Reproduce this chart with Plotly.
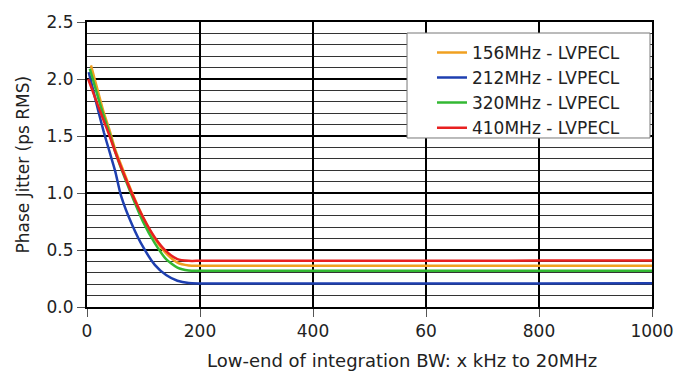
import plotly.graph_objects as go

# Data
x_156 = [7, 20, 30, 40, 50, 60, 80, 100, 120, 140, 160, 180, 200, 400, 600, 800, 1000]
y_156 = [2.12, 1.88, 1.70, 1.55, 1.38, 1.25, 1.00, 0.78, 0.60, 0.47, 0.39, 0.365, 0.362, 0.362, 0.362, 0.362, 0.362]

x_212 = [3, 20, 30, 40, 50, 60, 80, 100, 120, 140, 160, 180, 200, 400, 600, 800, 1000]
y_212 = [2.06, 1.72, 1.53, 1.36, 1.19, 0.98, 0.72, 0.52, 0.37, 0.28, 0.23, 0.21, 0.207, 0.207, 0.207, 0.207, 0.208]

x_320 = [5, 20, 30, 40, 50, 60, 80, 100, 120, 140, 160, 180, 200, 400, 600, 800, 1000]
y_320 = [2.09, 1.83, 1.67, 1.52, 1.36, 1.22, 0.97, 0.74, 0.56, 0.42, 0.345, 0.32, 0.318, 0.318, 0.318, 0.318, 0.318]

x_410 = [2, 20, 30, 40, 50, 60, 80, 100, 120, 140, 160, 180, 200, 400, 600, 800, 1000]
y_410 = [2.00, 1.76, 1.63, 1.50, 1.36, 1.23, 0.99, 0.78, 0.61, 0.49, 0.42, 0.405, 0.405, 0.405, 0.406, 0.407, 0.408]

series_names = ["156MHz - LVPECL", "212MHz - LVPECL", "320MHz - LVPECL", "410MHz - LVPECL"]
series_colors = ["#F0A020", "#1E3FB0", "#33B833", "#E82020"]

x_tickvals = [0, 200, 400, 600, 800, 1000]
x_ticktext = ["0", "200", "400", "60", "800", "1000"]
y_tickvals = [0.0, 0.5, 1.0, 1.5, 2.0, 2.5]
y_ticktext = ["0.0", "0.5", "1.0", "1.5", "2.0", "2.5"]

x_title = "Low-end of integration BW: x kHz to 20MHz"
y_title = "Phase Jitter (ps RMS)"

FONT = "DejaVu Sans"

fig = go.Figure()
for xs, ys, name, col in zip([x_156, x_212, x_320, x_410],
                             [y_156, y_212, y_320, y_410],
                             series_names, series_colors):
    fig.add_trace(go.Scatter(x=xs, y=ys, mode="lines", name=name,
                             line=dict(color=col, width=2.5, shape="spline", smoothing=0.6)))

# page body has an 8px margin, so the figure is offset inside the window
fig.update_layout(
    width=666, height=366,
    margin=dict(l=79, r=22, t=14, b=67),
    paper_bgcolor="white", plot_bgcolor="white",
    font=dict(family=FONT, color="#222", size=15),
    showlegend=True,
    legend=dict(x=0.6106, xanchor="left", y=0.955, yanchor="top",
                bgcolor="rgba(0,0,0,0)", borderwidth=0,
                font=dict(family=FONT, size=17, color="#222"),
                tracegroupgap=0, itemwidth=30),
    shapes=[dict(type="rect", xref="paper", yref="paper",
                 x0=0.5664, x1=0.9965, y0=0.593, y1=0.9614,
                 fillcolor="white", line=dict(color="#777", width=1), layer="above")],
    annotations=[
        dict(text=y_title, xref="paper", yref="paper",
             x=-0.115, y=0.5, textangle=-90, showarrow=False,
             xanchor="center", yanchor="middle",
             font=dict(family=FONT, size=17, color="#222")),
        dict(text=x_title, xref="paper", yref="paper",
             x=0.5575, y=-0.188, showarrow=False,
             xanchor="center", yanchor="middle",
             font=dict(family=FONT, size=18, color="#222")),
    ],
)
fig.update_xaxes(
    range=[0, 1000], tickvals=x_tickvals, ticktext=x_ticktext,
    showgrid=True, gridcolor="black", gridwidth=2,
    showline=True, linecolor="black", linewidth=2, mirror=True,
    ticks="outside", ticklen=8, tickcolor="#555", tickwidth=1,
    zeroline=False, automargin=False,
    tickfont=dict(family=FONT, size=17, color="#222"),
)
fig.update_yaxes(
    range=[0, 2.5], tickvals=y_tickvals, ticktext=y_ticktext,
    showgrid=True, gridcolor="black", gridwidth=2,
    minor=dict(dtick=0.1, showgrid=True, gridcolor="#333", gridwidth=1),
    showline=True, linecolor="black", linewidth=2, mirror=True,
    ticks="outside", ticklen=8, tickcolor="#555", tickwidth=1,
    zeroline=False, automargin=False,
    tickfont=dict(family=FONT, size=17, color="#222"),
)

fig.write_html("out.html")
